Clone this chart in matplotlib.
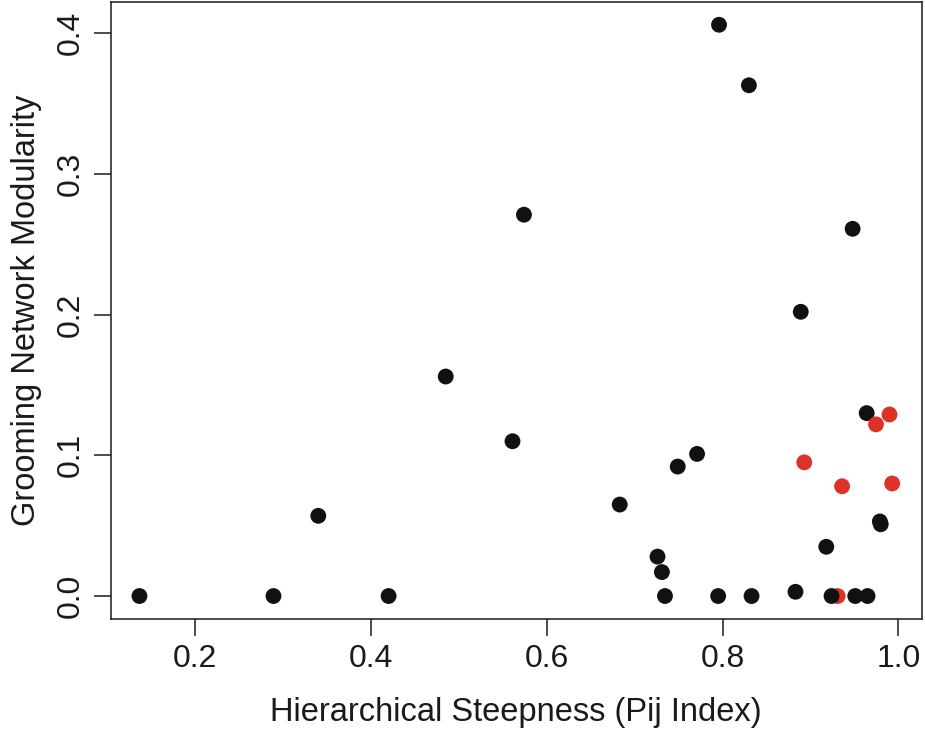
import matplotlib
matplotlib.use("Agg")
import matplotlib.pyplot as plt

plt.rcParams['font.family'] = ['Liberation Sans', 'DejaVu Sans']

# Hierarchical steepness (Pij) vs grooming network modularity
steepness = [0.1365, 0.289, 0.420, 0.340, 0.485, 0.561, 0.574, 0.683,
             0.726, 0.731, 0.7345, 0.749, 0.771, 0.795, 0.796, 0.830,
             0.833, 0.883, 0.889, 0.918, 0.893, 0.931, 0.924, 0.936,
             0.948, 0.951, 0.964, 0.965, 0.979, 0.980, 0.9746, 0.990, 0.993]
modularity = [0.0, 0.0, 0.0, 0.057, 0.156, 0.110, 0.271, 0.065,
              0.028, 0.017, 0.0, 0.092, 0.101, 0.0, 0.406, 0.363,
              0.0, 0.003, 0.202, 0.035, 0.095, 0.0, 0.0, 0.078,
              0.261, 0.0, 0.130, 0.0, 0.053, 0.051, 0.122, 0.129, 0.080]
group = ['b', 'b', 'b', 'b', 'b', 'b', 'b', 'b',
         'b', 'b', 'b', 'b', 'b', 'b', 'b', 'b',
         'b', 'b', 'b', 'b', 'r', 'r', 'b', 'r',
         'b', 'b', 'b', 'b', 'b', 'b', 'r', 'r', 'r']

palette = {'b': '#111111', 'r': '#DE3127'}
colors = [palette[g] for g in group]

fig = plt.figure(figsize=(9.25, 7.31), dpi=100)
ax = fig.add_axes([0.1195, 0.1527, 0.8773, 0.8446])

ax.scatter(steepness, modularity, c=colors, s=130, linewidths=0, zorder=3)

ax.set_xlim(0.1036, 1.027)
ax.set_ylim(-0.0166, 0.4222)
ax.set_xticks([0.2, 0.4, 0.6, 0.8, 1.0])
ax.set_xticklabels(['0.2', '0.4', '0.6', '0.8', '1.0'])
ax.set_yticks([0.0, 0.1, 0.2, 0.3, 0.4])
ax.set_yticklabels(['0.0', '0.1', '0.2', '0.3', '0.4'], rotation=90, va='center')

ax.tick_params(axis='both', direction='out', length=12, width=1.1,
               labelsize=23, color='#1a1a1a', labelcolor='#1a1a1a')
ax.tick_params(axis='x', pad=6)
ax.tick_params(axis='y', pad=6)
for s in ax.spines.values():
    s.set_linewidth(1.1)
    s.set_color('#1a1a1a')

ax.set_xlabel('Hierarchical Steepness (Pij Index)', fontsize=23.5, color='#1a1a1a', labelpad=16)
ax.set_ylabel('Grooming Network Modularity', fontsize=23.5, color='#1a1a1a', labelpad=10)

fig.savefig('out.png', dpi=100)
